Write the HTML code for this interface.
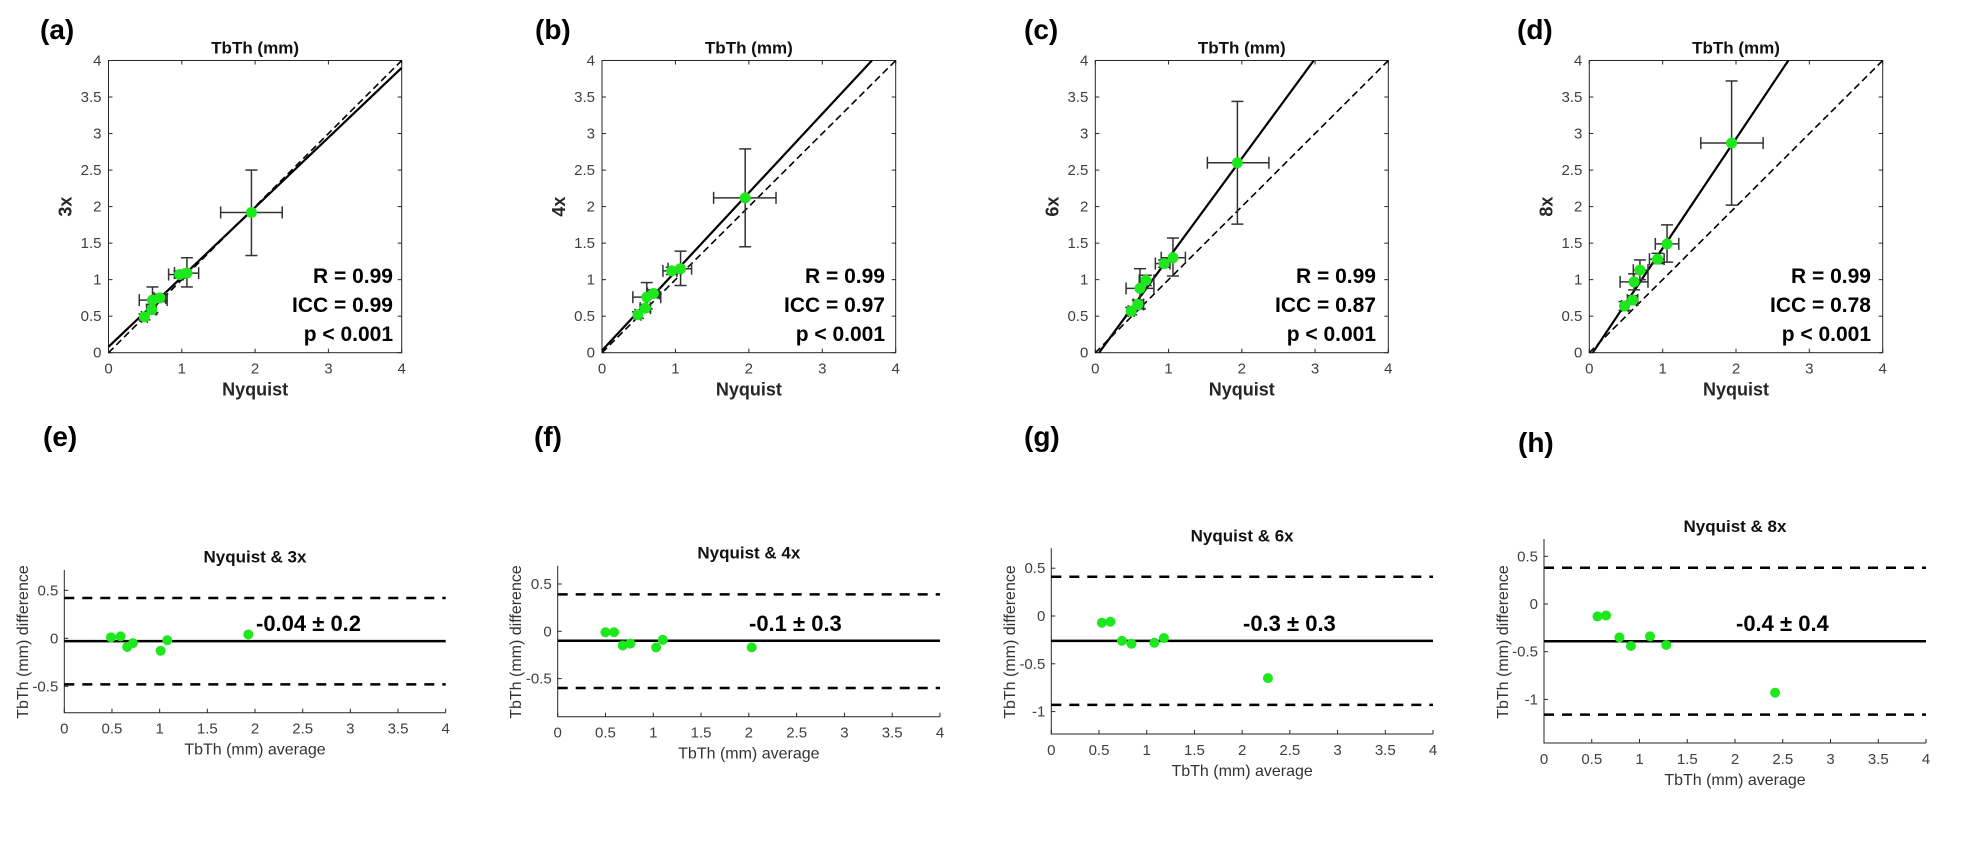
<!DOCTYPE html>
<html><head><meta charset="utf-8">
<style>
html,body{margin:0;padding:0;background:#fff;}
svg{display:block;}
text{font-family:"Liberation Sans",sans-serif;}
</style></head>
<body>
<svg id="fig" width="1974" height="864" viewBox="0 0 1974 864" xmlns="http://www.w3.org/2000/svg"></svg>
<script>
// ---------- scatter data (Nyquist vs Nx) ----------
const scatterXTicks = [0,1,2,3,4];
const scatterYTicks = [0,0.5,1,1.5,2,2.5,3,3.5,4];
const scatterYTickLabels = ["0","0.5","1","1.5","2","2.5","3","3.5","4"];

const aX = [1.95,1.07,0.97,0.60,0.70,0.59,0.49];
const aY = [1.92,1.09,1.07,0.72,0.75,0.59,0.49];
const aXLo = [1.53,0.90,0.82,0.42,0.62,0.52,0.45];
const aXHi = [2.37,1.23,1.02,0.80,0.78,0.65,0.53];
const aYLo = [1.33,0.90,1.02,0.55,0.70,0.53,0.45];
const aYHi = [2.50,1.30,1.12,0.90,0.80,0.66,0.53];
const aFit = [0.955,0.08];
const aStats = ["R = 0.99","ICC = 0.99","p < 0.001"];

const bX = [1.95,1.07,0.95,0.61,0.70,0.59,0.49];
const bY = [2.12,1.15,1.12,0.76,0.81,0.61,0.52];
const bXLo = [1.52,0.90,0.83,0.42,0.62,0.52,0.45];
const bXHi = [2.37,1.22,1.02,0.80,0.78,0.66,0.53];
const bYLo = [1.45,0.92,1.07,0.60,0.76,0.56,0.47];
const bYHi = [2.79,1.39,1.17,0.96,0.86,0.66,0.56];
const bFit = [1.08,0.03];
const bStats = ["R = 0.99","ICC = 0.97","p < 0.001"];

const cX = [1.94,1.06,0.94,0.61,0.69,0.58,0.49];
const cY = [2.60,1.30,1.22,0.88,0.99,0.66,0.57];
const cXLo = [1.53,0.90,0.82,0.42,0.60,0.52,0.45];
const cXHi = [2.37,1.23,1.02,0.80,0.80,0.66,0.53];
const cYLo = [1.76,1.05,1.17,0.60,0.92,0.61,0.52];
const cYHi = [3.44,1.57,1.27,1.15,1.06,0.72,0.62];
const cFit = [1.365,-0.07];
const cStats = ["R = 0.99","ICC = 0.87","p < 0.001"];

const dX = [1.94,1.06,0.93,0.69,0.61,0.59,0.48];
const dY = [2.87,1.49,1.28,1.13,0.97,0.72,0.64];
const dXLo = [1.52,0.90,0.82,0.60,0.42,0.52,0.44];
const dXHi = [2.37,1.22,1.02,0.80,0.80,0.66,0.53];
const dYLo = [2.02,1.24,1.22,1.00,0.86,0.66,0.58];
const dYHi = [3.72,1.75,1.36,1.27,1.08,0.78,0.70];
const dFit = [1.5,-0.07];
const dStats = ["R = 0.99","ICC = 0.78","p < 0.001"];

// ---------- Bland-Altman data ----------
const baXTicks = [0,0.5,1,1.5,2,2.5,3,3.5,4];
const baXTickLabels = ["0","0.5","1","1.5","2","2.5","3","3.5","4"];

const eAvg = [0.49,0.59,0.66,0.72,1.01,1.08,1.93];
const eDiff = [0.01,0.02,-0.09,-0.05,-0.13,-0.02,0.04];
const eLines = [-0.03,0.42,-0.48];
const eYTicks = [0.5,0,-0.5];
const eYTickLabels = ["0.5","0","-0.5"];

const fAvg = [0.50,0.59,0.68,0.76,1.03,1.10,2.03];
const fDiff = [-0.01,-0.01,-0.15,-0.13,-0.17,-0.09,-0.17];
const fLines = [-0.10,0.39,-0.60];
const fYTicks = [0.5,0,-0.5];
const fYTickLabels = ["0.5","0","-0.5"];

const gAvg = [0.53,0.62,0.74,0.84,1.08,1.18,2.27];
const gDiff = [-0.07,-0.06,-0.26,-0.29,-0.28,-0.23,-0.65];
const gLines = [-0.26,0.41,-0.93];
const gYTicks = [0.5,0,-0.5,-1];
const gYTickLabels = ["0.5","0","-0.5","-1"];

const hAvg = [0.56,0.65,0.79,0.91,1.11,1.28,2.42];
const hDiff = [-0.13,-0.12,-0.35,-0.44,-0.34,-0.43,-0.93];
const hLines = [-0.39,0.38,-1.16];
const hYTicks = [0.5,0,-0.5,-1];
const hYTickLabels = ["0.5","0","-0.5","-1"];

const NS = "http://www.w3.org/2000/svg";
const svg = document.getElementById('fig');
function mk(tag, attrs, parent, txt){
  const e = document.createElementNS(NS, tag);
  for (const k in attrs) e.setAttribute(k, attrs[k]);
  if (txt !== undefined) e.textContent = txt;
  (parent||svg).appendChild(e);
  return e;
}
const GREEN = "#1de81d", AX = "#262626", TK = "#404040";

function scatterPanel(id, L, R, T, B, X, Y, XLo, XHi, YLo, YHi, fit, stats, ylab, statRight){
  const g = mk('g', {});
  
  
  const sx = v => L + v/4*(R-L), sy = v => B - v/4*(B-T);
  const box = mk('rect', {x:L, y:T, width:R-L, height:B-T, fill:'none', stroke:AX, 'stroke-width':1}, g);
  
  
  scatterXTicks.forEach(v=>{
    mk('line',{x1:sx(v),x2:sx(v),y1:B,y2:B-4,stroke:AX},g);
    mk('line',{x1:sx(v),x2:sx(v),y1:T,y2:T+4,stroke:AX},g);
    const t = mk('text',{x:sx(v),y:B+21,'text-anchor':'middle','font-size':15,fill:TK},g,String(v));
    
    
  });
  scatterYTicks.forEach((v,i)=>{
    mk('line',{x1:L,x2:L+4,y1:sy(v),y2:sy(v),stroke:AX},g);
    mk('line',{x1:R,x2:R-4,y1:sy(v),y2:sy(v),stroke:AX},g);
    const t = mk('text',{x:L-7,y:sy(v)+5,'text-anchor':'end','font-size':15,fill:TK},g,scatterYTickLabels[i]);
    
    
  });
  // identity dashed
  const idl = mk('line',{x1:sx(0),y1:sy(0),x2:sx(4),y2:sy(4),stroke:'#000','stroke-width':1.6,'stroke-dasharray':'7,4'},g);
  
  
  // fit line clipped to box
  let x0 = 0, y0 = fit[1];
  if (y0 < 0){ x0 = -fit[1]/fit[0]; y0 = 0; }
  let x1 = 4, y1 = fit[0]*4 + fit[1];
  if (y1 > 4){ x1 = (4 - fit[1])/fit[0]; y1 = 4; }
  const fl = mk('line',{x1:sx(x0),y1:sy(y0),x2:sx(x1),y2:sy(y1),stroke:'#000','stroke-width':2.2},g);
  
  
  X.forEach((v,i)=>{
    const eb = mk('g',{stroke:'#333','stroke-width':1.5},g);
    
    
    mk('line',{x1:sx(XLo[i]),x2:sx(XHi[i]),y1:sy(Y[i]),y2:sy(Y[i])},eb);
    mk('line',{x1:sx(XLo[i]),x2:sx(XLo[i]),y1:sy(Y[i])-6,y2:sy(Y[i])+6},eb);
    mk('line',{x1:sx(XHi[i]),x2:sx(XHi[i]),y1:sy(Y[i])-6,y2:sy(Y[i])+6},eb);
    mk('line',{x1:sx(v),x2:sx(v),y1:sy(YLo[i]),y2:sy(YHi[i])},eb);
    mk('line',{x1:sx(v)-6,x2:sx(v)+6,y1:sy(YLo[i]),y2:sy(YLo[i])},eb);
    mk('line',{x1:sx(v)-6,x2:sx(v)+6,y1:sy(YHi[i]),y2:sy(YHi[i])},eb);
  });
  X.forEach((v,i)=>{
    const p = mk('circle',{cx:sx(v),cy:sy(Y[i]),r:5.5,fill:GREEN},g);
    
    
  });
  const ti = mk('text',{x:(L+R)/2,y:T-7,'text-anchor':'middle','font-size':17,'font-weight':'bold',fill:'#111'},g,'TbTh (mm)');
  
  
  const xl = mk('text',{x:(L+R)/2,y:B+43,'text-anchor':'middle','font-size':18,'font-weight':'bold',fill:'#262626'},g,'Nyquist');
  
  
  const yl = mk('text',{x:0,y:0,'text-anchor':'middle','font-size':18,'font-weight':'bold',fill:'#262626',transform:`translate(${L-37},${(T+B)/2}) rotate(-90)`},g,ylab);
  
  
  [283,312,341].forEach((yy,i)=>{
    const s = mk('text',{x:statRight,y:yy,'text-anchor':'end','font-size':21,'font-weight':'bold',fill:'#000'},g,stats[i]);
    
    
  });
}

function baPanel(id, L, R, T, B, y0px, unit, avg, diff, lines, yt, ytl, title, titleY, labelTxt, labelX, ylabX){
  const g = mk('g',{});
  
  
  const sx = v => L + v/4*(R-L), sy = v => y0px - v*unit;
  const ax = mk('path',{d:`M${L},${T} L${L},${B} L${R},${B}`,fill:'none',stroke:AX},g);
  
  
  baXTicks.forEach((v,i)=>{
    mk('line',{x1:sx(v),x2:sx(v),y1:B,y2:B-4,stroke:AX},g);
    const t = mk('text',{x:sx(v),y:B+21,'text-anchor':'middle','font-size':15,fill:TK},g,baXTickLabels[i]);
    
    
  });
  yt.forEach((v,i)=>{
    mk('line',{x1:L,x2:L+4,y1:sy(v),y2:sy(v),stroke:AX},g);
    const t = mk('text',{x:L-6,y:sy(v)+5,'text-anchor':'end','font-size':15,fill:TK},g,ytl[i]);
    
    
  });
  const ml = mk('line',{x1:sx(0),x2:sx(4),y1:sy(lines[0]),y2:sy(lines[0]),stroke:'#000','stroke-width':2.5},g);
  
  
  const ul = mk('line',{x1:sx(0),x2:sx(4),y1:sy(lines[1]),y2:sy(lines[1]),stroke:'#000','stroke-width':2.5,'stroke-dasharray':'10,8'},g);
  
  
  const ll = mk('line',{x1:sx(0),x2:sx(4),y1:sy(lines[2]),y2:sy(lines[2]),stroke:'#000','stroke-width':2.5,'stroke-dasharray':'10,8'},g);
  
  
  avg.forEach((v,i)=>{
    const p = mk('circle',{cx:sx(v),cy:sy(diff[i]),r:5,fill:GREEN},g);
    
    
  });
  const lb = mk('text',{x:labelX,y:sy(lines[0])-10,'font-size':22,'font-weight':'bold',fill:'#000'},g,labelTxt);
  
  
  const ti = mk('text',{x:(L+R)/2,y:titleY+6,'text-anchor':'middle','font-size':17,'font-weight':'bold',fill:'#111'},g,title);
  
  
  const xl = mk('text',{x:(L+R)/2,y:B+42,'text-anchor':'middle','font-size':16,fill:'#333'},g,'TbTh (mm) average');
  
  
  const yl = mk('text',{x:0,y:0,'text-anchor':'middle','font-size':16,fill:'#333',transform:`translate(${ylabX},642) rotate(-90)`},g,'TbTh (mm) difference');
  
  
}

scatterPanel('a',108.5,401.7,60.5,352.7,aX,aY,aXLo,aXHi,aYLo,aYHi,aFit,aStats,'3x',393);
scatterPanel('b',602,895.7,60.5,352.7,bX,bY,bXLo,bXHi,bYLo,bYHi,bFit,bStats,'4x',885);
scatterPanel('c',1095.3,1388.3,60.5,352.7,cX,cY,cXLo,cXHi,cYLo,cYHi,cFit,cStats,'6x',1376);
scatterPanel('d',1589.3,1882.7,60.5,352.7,dX,dY,dXLo,dXHi,dYLo,dYHi,dFit,dStats,'8x',1871);

baPanel('e',64.3,445.7,570,712.7,638.3,96,eAvg,eDiff,eLines,eYTicks,eYTickLabels,'Nyquist & 3x',556.7,'-0.04 ± 0.2',256,28);
baPanel('f',557.7,940,565.7,716.7,631.3,94.6,fAvg,fDiff,fLines,fYTicks,fYTickLabels,'Nyquist & 4x',552.7,'-0.1 ± 0.3',749,521);
baPanel('g',1051.3,1433,548.3,734,616,95.6,gAvg,gDiff,gLines,gYTicks,gYTickLabels,'Nyquist & 6x',535.7,'-0.3 ± 0.3',1243,1015);
baPanel('h',1544,1926,539,743,604,95.4,hAvg,hDiff,hLines,hYTicks,hYTickLabels,'Nyquist & 8x',526,'-0.4 ± 0.4',1736,1508);

// panel letters
const letters = [['(a)',40,39],['(b)',535,39],['(c)',1024,39],['(d)',1517,39],['(e)',43,446],['(f)',534,446],['(g)',1024,446],['(h)',1518,452]];
letters.forEach(l=>{
  const t = mk('text',{x:l[1],y:l[2],'font-size':28,'font-weight':'bold',fill:'#000'},svg,l[0]);
  
  
});
</script>
</body></html>
